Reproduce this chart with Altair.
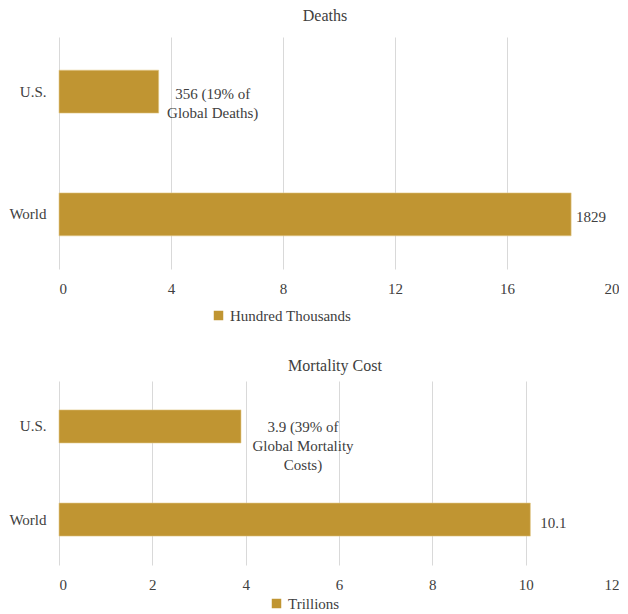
import altair as alt
import pandas as pd

categories = ["U.S.", "World"]
deaths = [3.56, 18.29]
death_labels = ["356 (19% of\nGlobal Deaths)", "1829"]
deaths_series = "Hundred Thousands"
deaths_ticks = [0, 4, 8, 12, 16, 20]

costs = [3.9, 10.1]
cost_labels = ["3.9 (39% of\nGlobal Mortality\nCosts)", "10.1"]
cost_series = "Trillions"
cost_ticks = [0, 2, 4, 6, 8, 10, 12]

FONT = "Liberation Serif"
GOLD = "#C09532"
TEXT = "#404040"


def panel(values, labels, series, ticks, title, height, pad_inner, pad_outer,
          us_dx, us_dy, world_dx, legend_x, legend_y, title_offset, title_dx):
    df = pd.DataFrame({"cat": categories, "val": values, "label": labels, "series": series})
    base = alt.Chart(df)
    y = alt.Y("cat:N", sort=categories, title=None,
              scale=alt.Scale(paddingInner=pad_inner, paddingOuter=pad_outer),
              axis=alt.Axis(domain=False, ticks=False, labelPadding=13))
    x = alt.X("val:Q", title=None,
              scale=alt.Scale(domain=[ticks[0], ticks[-1]], nice=False),
              axis=alt.Axis(values=ticks, domain=False, ticks=False, grid=True,
                            gridColor="#d9d9d9", labelPadding=12))
    bars = base.mark_bar(stroke="#e3c98a", strokeWidth=0.6).encode(
        x=x, y=y,
        color=alt.Color("series:N", scale=alt.Scale(range=[GOLD]),
                        legend=alt.Legend(title=None, orient="none",
                                          legendX=legend_x, legendY=legend_y,
                                          symbolType="square", symbolSize=90,
                                          symbolStrokeWidth=0)))
    us_text = base.transform_filter(alt.datum.cat == "U.S.").mark_text(
        align="center", baseline="middle", dx=us_dx, dy=us_dy, lineBreak="\n",
        lineHeight=19, font=FONT, fontSize=15, color=TEXT
    ).encode(x="val:Q", y=alt.Y("cat:N", sort=categories), text="label:N")
    world_text = base.transform_filter(alt.datum.cat == "World").mark_text(
        align="left", baseline="middle", dx=world_dx, dy=3, font=FONT,
        fontSize=15, color=TEXT
    ).encode(x="val:Q", y=alt.Y("cat:N", sort=categories), text="label:N")
    return alt.layer(bars, us_text, world_text).properties(
        width=560, height=height,
        title=alt.TitleParams(title, offset=title_offset, dx=title_dx))


top = panel(deaths, death_labels, deaths_series, deaths_ticks, "Deaths", 232,
            0.65, 0.27, 54, 2, 5, 152, 271, 13, -14)
bottom = panel(costs, cost_labels, cost_series, cost_ticks, "Mortality Cost", 184,
               0.645, 0.31, 62, 1, 10, 210, 215, 7, -4)

chart = alt.vconcat(top, bottom, spacing=34).resolve_scale(
    color="independent"
).resolve_legend(color="independent").properties(padding=0).configure_view(
    stroke=None
).configure_axis(
    labelFont=FONT, labelFontSize=15, labelColor=TEXT
).configure_title(
    font=FONT, fontSize=16, fontWeight="normal", color=TEXT, anchor="middle"
).configure_legend(
    labelFont=FONT, labelFontSize=15, labelColor=TEXT
)

chart.save("out.html", embed_options={"renderer": "svg", "actions": False})
